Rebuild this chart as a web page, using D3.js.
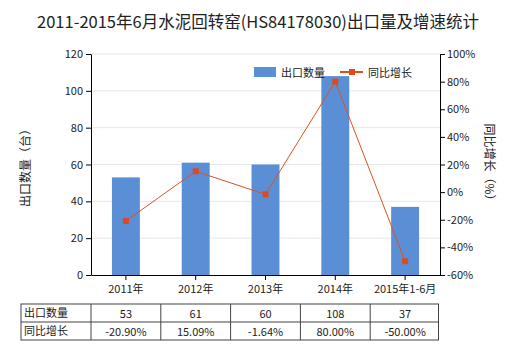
<!DOCTYPE html>
<html><head><meta charset="utf-8">
<script src="https://cdn.jsdelivr.net/npm/d3@7"></script>
<style>
body{margin:0;background:#fff;}
text{font-family:"Noto Sans CJK SC","Microsoft YaHei",sans-serif;fill:#222;}
</style></head>
<body><svg id="c" width="520" height="350"></svg>
<script>
const categories = ["2011年","2012年","2013年","2014年","2015年1-6月"];
const exportQty = [53,61,60,108,37];
const growth = [-20.90,15.09,-1.64,80.00,-50.00];
const qtyLabels = ["53","61","60","108","37"];
const growthLabels = ["-20.90%","15.09%","-1.64%","80.00%","-50.00%"];
const leftTicks = [0,20,40,60,80,100,120];
const rightTicks = [-60,-40,-20,0,20,40,60,80,100];

const svg = d3.select("#c");
const L=91, R=440, T=54, B=275;
const x = d3.scaleBand().domain(categories).range([L,R]).paddingInner(0.6).paddingOuter(0.3);
const xc = d3.scaleBand().domain(categories).range([L,R]);
const y = d3.scaleLinear().domain([0,120]).range([B,T]);
const y2 = d3.scaleLinear().domain([-60,100]).range([B,T]);

svg.append("text").attr("x",258).attr("y",28).attr("text-anchor","middle")
  .style("font-size","16.5px").text("2011-2015年6月水泥回转窑(HS84178030)出口量及增速统计");

// gridlines
svg.append("g").selectAll("line").data(leftTicks.filter(d=>d>0)).join("line")
  .attr("x1",L).attr("x2",R).attr("y1",d=>y(d)).attr("y2",d=>y(d))
  .attr("stroke","#e3e8ea").attr("stroke-width",1);

// bars
svg.append("g").selectAll("rect").data(exportQty).join("rect")
  .attr("x",(d,i)=>x(categories[i])).attr("width",x.bandwidth())
  .attr("y",d=>y(d)).attr("height",d=>B-y(d)).attr("fill","#5a8fd6");

// line
const line = d3.line().x((d,i)=>xc(categories[i])+xc.bandwidth()/2).y(d=>y2(d));
svg.append("path").datum(growth).attr("d",line).attr("fill","none")
  .attr("stroke","#e0501f").attr("stroke-width",1);
svg.append("g").selectAll("rect").data(growth).join("rect")
  .attr("x",(d,i)=>xc(categories[i])+xc.bandwidth()/2-3).attr("y",d=>y2(d)-3)
  .attr("width",6).attr("height",6).attr("fill","#e0491f");

// axes
const fmtAxis = g=>{g.selectAll("text").style("font-size","11px").attr("fill","#222");
  g.select(".domain").attr("stroke","#000"); g.selectAll(".tick line").attr("stroke","#000");};
svg.append("g").attr("transform",`translate(${L},0)`)
  .call(d3.axisLeft(y).tickValues(leftTicks).tickSize(5).tickSizeOuter(0).tickPadding(3)).call(fmtAxis);
svg.append("g").attr("transform",`translate(${R},0)`)
  .call(d3.axisRight(y2).tickValues(rightTicks).tickFormat(d=>d+"%").tickSize(5).tickSizeOuter(0).tickPadding(2)).call(fmtAxis);
svg.append("g").attr("transform",`translate(0,${B})`)
  .call(d3.axisBottom(xc).tickSize(5).tickSizeOuter(0).tickPadding(5)).call(fmtAxis)
  .selectAll(".tick text").style("font-size","11px");

// axis titles
svg.append("text").attr("transform","translate(30,165) rotate(-90)").attr("text-anchor","middle")
  .style("font-size","12px").text("出口数量（台）");
svg.append("text").attr("transform","translate(485,165) rotate(90)").attr("text-anchor","middle")
  .style("font-size","12px").text("同比增长（%）");

// legend
svg.append("rect").attr("x",254).attr("y",67).attr("width",22).attr("height",10).attr("fill","#5a8fd6");
svg.append("text").attr("x",281).attr("y",76.5).style("font-size","11px").text("出口数量");
svg.append("line").attr("x1",340).attr("x2",363).attr("y1",72).attr("y2",72).attr("stroke","#e0501f").attr("stroke-width",2);
svg.append("rect").attr("x",349).attr("y",69).attr("width",6).attr("height",6).attr("fill","#e0491f");
svg.append("text").attr("x",368).attr("y",76.5).style("font-size","11px").text("同比增长");

// table
const tL=21, tT=304, tM=322, tB=340;
const tR = xc(categories[4])+xc.bandwidth()-1.5;
const tg = svg.append("g");
tg.append("rect").attr("x",tL).attr("y",tT).attr("width",tR-tL).attr("height",tB-tT)
  .attr("fill","none").attr("stroke","#444");
tg.append("line").attr("x1",tL).attr("x2",tR).attr("y1",tM).attr("y2",tM).attr("stroke","#444");
categories.forEach((c,i)=>{
  tg.append("line").attr("x1",xc(c)).attr("x2",xc(c)).attr("y1",tT).attr("y2",tB).attr("stroke","#444");
});
tg.append("text").attr("x",tL+3).attr("y",tT+13).style("font-size","11px").text("出口数量");
tg.append("text").attr("x",tL+3).attr("y",tM+13).style("font-size","11px").text("同比增长");
tg.selectAll(".q").data(qtyLabels).join("text").attr("class","q")
  .attr("x",(d,i)=>xc(categories[i])+xc.bandwidth()/2).attr("y",tT+14).attr("text-anchor","middle")
  .style("font-size","11px").text(d=>d);
tg.selectAll(".g").data(growthLabels).join("text").attr("class","g")
  .attr("x",(d,i)=>xc(categories[i])+xc.bandwidth()/2).attr("y",tM+14).attr("text-anchor","middle")
  .style("font-size","11px").text(d=>d);
</script></body></html>
